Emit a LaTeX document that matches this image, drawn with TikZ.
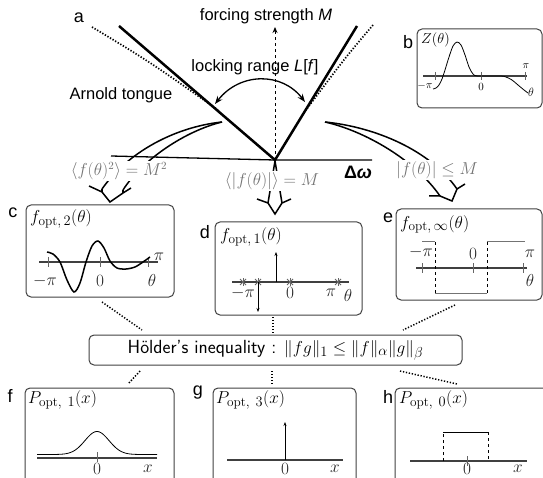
\documentclass[tikz,border=0pt]{standalone}
\usepackage{fontspec}
\newfontfamily\arial{Liberation Sans}
\usetikzlibrary{arrows.meta}
\begin{document}
\begin{tikzpicture}[x=1pt,y=-1pt,
  sans/.style={font=\arial\fontsize{16.5}{18}\selectfont, inner sep=0pt},
  plbl/.style={font=\arial\fontsize{18}{20}\selectfont, inner sep=0pt},
  panel/.style={draw=black!75, rounded corners=5pt, line width=1pt},
  ax/.style={draw=black!75, line width=1.4pt},
  tick/.style={draw=black!60, line width=0.8pt},
  glbl/.style={text=black!55, fill=white, inner sep=1pt, font=\fontsize{16}{18}\selectfont},
  title/.style={anchor=north west, inner sep=0pt, font=\fontsize{19}{21}\selectfont},
  albl/.style={inner sep=0pt, font=\fontsize{18.5}{20}\selectfont, text=black!85},
  slbl/.style={inner sep=0pt, font=\fontsize{11}{13}\selectfont},
  dots/.style={line width=1.7pt, dash pattern=on 1.3pt off 1.7pt},
  broad/.style={line width=1.5pt, line join=miter},
  tongue/.style={line width=2.5pt},
]
\useasboundingbox (0,0) rectangle (543,478);

% ---------------- panel a ----------------
\coordinate (apex) at (275,160);
\coordinate (LT) at (119,26);
\coordinate (RT) at (357,26);
\draw[line width=1.3pt] (111,156) -- (apex) -- (372,160);
\draw[dots] (92,27) .. controls (150,62) .. (218,110);
\draw[dots] (373,25) .. controls (345,58) .. (306,110);
\draw[tongue] (LT) -- (apex) -- (RT);
\coordinate (Mtop) at (275,27);
\draw[dashed, line width=0.9pt, -{Stealth[length=6pt,width=5pt]}] (apex) -- (Mtop);
\node[sans] (force) at (266,16) {forcing strength \textit{M}};
\node[sans] (lock) at (255,67) {locking range \textit{L}[\textit{f}]};
\node[sans] (arnold) at (121,95) {Arnold tongue};
\node[plbl] (la) at (79,18) {a};
\coordinate (arcL) at (215,104);
\coordinate (arcR) at (305,102);
\draw[line width=1.3pt, {Stealth[length=8pt,width=6pt]}-{Stealth[length=8pt,width=6pt]}] (arcL) .. controls (240,72) and (282,72) .. (arcR);
\node[sans, font=\arial\bfseries\fontsize{18}{20}\selectfont] (dw) at (358,172) {Δ\itshape ω};

% broad arrow c
\draw[broad] (222,122) .. controls (175,127) and (128,152) .. (102,189);
\draw[broad] (222,122) .. controls (185,131) and (142,160) .. (123,190);
\draw[broad] (89,186) -- (102,192) -- (110,202) -- (123,193) -- (131,188);
\draw[broad] (102,189) -- (102,192);
\draw[broad] (123,190) -- (123,193);
% broad arrow d
\draw[broad] (275,161) -- (268,203);
\draw[broad] (275,161) -- (282,203);
\draw[broad] (257,199) -- (268,203) -- (275,214) -- (282,203) -- (291,199);
% broad arrow e
\draw[broad] (325,122) .. controls (375,127) and (430,150) .. (457,189);
\draw[broad] (325,122) .. controls (365,131) and (415,160) .. (440,196);
\draw[broad] (429,196) -- (440,196) -- (452,201) -- (457,189) -- (465,184);

\node[glbl] (cl) at (119,171) {$\langle f(\theta)^2\rangle = M^2$};
\node[glbl] (dl) at (272,181) {$\langle |f(\theta)|\rangle = M$};
\node[glbl] (el) at (437,170) {$|f(\theta)| \leq M$};

% ---------------- panel b ----------------
\draw[panel] (417,29) rectangle (542,108);
\node[plbl] (lb) at (408,42) {b};
\node[title, font=\fontsize{13.5}{15}\selectfont] (tb) at (421,33) {$Z(\theta)$};
\draw[ax, line width=1.2pt] (423,76) -- (527,76);
\foreach \xx in {435,481,525} \draw[tick] (\xx,72) -- (\xx,80);
\draw[line width=0.8pt] plot[smooth] coordinates {(433,89) (436,88) (439,85) (442,79) (445,70) (449,57) (453,46) (457,42) (461,45) (465,55) (469,67) (473,74) (478,76) (500,76) (506,77) (512,80) (518,85) (524,90) (528,93)};
\node[slbl] (bm) at (425,86) {$-\pi$};
\node[slbl] (b0) at (481,87) {$0$};
\node[slbl] (bp) at (526,66) {$\pi$};
\node[slbl, font=\fontsize{13}{15}\selectfont] (bt) at (531,92) {$\theta$};

% ---------------- panel c ----------------
\draw[panel] (26,205) rectangle (174,297);
\node[plbl] (lc) at (13,213) {c};
\node[title] (tc) at (30,209) {$f_{\mathrm{opt},\,2}(\theta)$};
\draw[ax] (39,262) -- (158,262);
\foreach \xx in {48,100,148} \draw[tick] (\xx,257) -- (\xx,267);
\draw[line width=1.5pt] plot[smooth] coordinates {(47,252) (53,254) (60,262) (67,280) (74,292) (80,283) (86,262) (92,246) (98,241) (104,248) (110,261) (117,268) (126,269) (135,267) (143,262) (150,257)};
\node[albl] (cm) at (45,281) {$-\pi$};
\node[albl] (c0) at (100,281) {$0$};
\node[albl] (ct) at (152,281) {$\theta$};
\node[albl] (cp) at (159,257) {$\pi$};

% ---------------- panel d ----------------
\draw[panel] (215,222) rectangle (362,315);
\node[plbl] (ld) at (205,232) {d};
\node[title] (td) at (220,227) {$f_{\mathrm{opt},\,1}(\theta)$};
\draw[ax] (232,282) -- (349,282);
\foreach \xx in {243,258,290,338} {
  \draw[tick] (\xx,278) -- (\xx,286);
  \draw[tick] (\xx-3,279) -- (\xx+3,285);
  \draw[tick] (\xx-3,285) -- (\xx+3,279);
}
\draw[line width=0.8pt, -{Stealth[length=4pt,width=3pt]}] (276,282) -- (276,252);
\draw[line width=0.8pt, -{Stealth[length=4pt,width=3pt]}] (258,282) -- (258,312);
\node[albl] (dm) at (243,293) {$-\pi$};
\node[albl] (d0) at (290,293) {$0$};
\node[albl] (dp) at (331,293) {$\pi$};
\node[albl] (dt) at (348,295) {$\theta$};

% ---------------- panel e ----------------
\draw[panel] (396,209) rectangle (542,300);
\node[plbl] (le) at (388,218) {e};
\node[title] (te) at (400,215) {$f_{\mathrm{opt},\,\infty}(\theta)$};
\draw[ax] (416,268) -- (527,268);
\foreach \xx in {422,473,523} \draw[tick] (\xx,263) -- (\xx,273);
\draw[black!55, line width=1pt] (422,242) -- (435,242);
\draw[black!55, line width=1pt] (435,293) -- (487,293);
\draw[black!55, line width=1pt] (487,242) -- (525,242);
\draw[dashed, line width=0.9pt] (435,242) -- (435,293);
\draw[dashed, line width=0.9pt] (487,293) -- (487,242);
\node[albl] (em) at (421,252) {$-\pi$};
\node[albl] (e0) at (473,254) {$0$};
\node[albl] (ep) at (530,254) {$\pi$};
\node[albl] (et) at (530,281) {$\theta$};

% ---------------- Hoelder ----------------
\node[draw=black!75, rounded corners=5pt, line width=1pt, minimum width=373pt, minimum height=30pt, inner sep=0pt, font=\sffamily\fontsize{19}{22}\selectfont] (hold) at (275.5,350) {H\"older's inequality : $\|fg\|_1 \leq \|f\|_\alpha \|g\|_\beta$};

\coordinate (c1) at (102,302); \coordinate (c2) at (142,330);
\coordinate (d1) at (273,317); \coordinate (d2) at (273,333);
\coordinate (e1) at (455,305); \coordinate (e2) at (403,330);
\coordinate (f1) at (140,371); \coordinate (f2) at (128,384);
\coordinate (g1) at (272,371); \coordinate (g2) at (272,384);
\coordinate (h1) at (400,371); \coordinate (h2) at (457,384);
\foreach \a/\b in {c1/c2,d1/d2,e1/e2,f1/f2,g1/g2,h1/h2}
  \draw[dots, line width=1.5pt] (\a) -- (\b);

% ---------------- panel f ----------------
\draw[panel] (25,388) rectangle (174,500);
\node[plbl] (lf) at (10,396) {f};
\node[title] (tf) at (28,390) {$P_{\mathrm{opt},\ 1}(x)$};
\draw[ax, line width=1.2pt] (37,458) -- (157,458);
\draw[line width=0.8pt] plot[domain=37:157, samples=80, smooth] (\x, {454.5 - 23*exp(-((\x-97)/17)^2)});
\draw[tick] (97,452) -- (97,462);
\node[albl, font=\fontsize{17}{19}\selectfont] (f0) at (97,469) {$0$};
\node[albl, font=\fontsize{17}{19}\selectfont] (fx) at (148,469) {$x$};

% ---------------- panel g ----------------
\draw[panel] (213,388) rectangle (356,500);
\node[plbl] (lg) at (198,393) {g};
\node[title] (tg) at (216,390) {$P_{\mathrm{opt},\ 3}(x)$};
\draw[ax, line width=1.2pt] (227,460) -- (343,460);
\draw[line width=0.8pt, -{Stealth[length=4pt,width=3pt]}] (285,460) -- (285,422);
\node[albl, font=\fontsize{17}{19}\selectfont] (g0) at (285,469) {$0$};
\node[albl, font=\fontsize{17}{19}\selectfont] (gx) at (335,469) {$x$};

% ---------------- panel h ----------------
\draw[panel] (395,388) rectangle (552,500);
\node[plbl] (lh) at (388,397) {h};
\node[title] (th) at (399,390) {$P_{\mathrm{opt},\ 0}(x)$};
\draw[ax, line width=1.2pt] (410,461) -- (527,461);
\draw[tick] (467,456) -- (467,466);
\draw[dashed, line width=0.8pt] (443,461) -- (443,432);
\draw[line width=0.9pt] (443,432) -- (488,432);
\draw[dashed, line width=0.8pt] (488,432) -- (488,461);
\node[albl, font=\fontsize{17}{19}\selectfont] (h0) at (467,469) {$0$};
\node[albl, font=\fontsize{17}{19}\selectfont] (hx) at (518,469) {$x$};
\end{tikzpicture}
\end{document}
